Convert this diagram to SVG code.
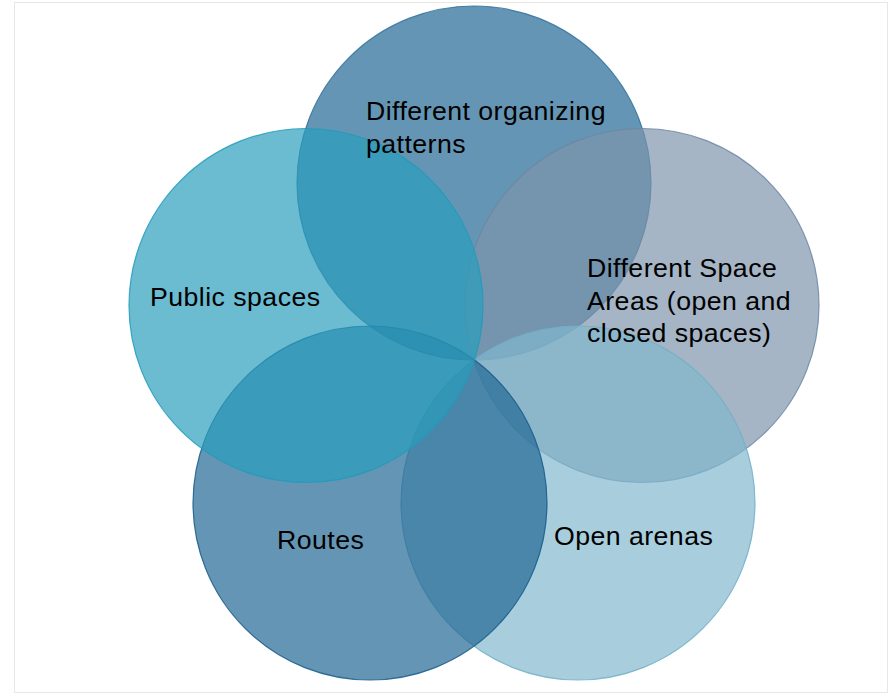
<svg xmlns="http://www.w3.org/2000/svg" width="893" height="694" viewBox="0 0 893 694">
  <style>
    .c { fill-opacity: 0.69; stroke-width: 1.2; stroke-opacity: 0.85; }
    .lbl { font-family: "Liberation Sans", Arial, sans-serif; font-size: 26.7px; letter-spacing: 0.45px; fill: #000000; }
  </style>
  <rect x="14.5" y="2.5" width="873" height="690" fill="#ffffff" stroke="#e8e8e0" stroke-width="1"/>
  <g id="node-organizing">
    <circle class="c" cx="474" cy="183" r="177" fill="#206592" stroke="#2f719c"/>
  </g>
  <g id="node-space-areas">
    <circle class="c" cx="642" cy="305.5" r="177" fill="#7d94ab" stroke="#6c87a2"/>
  </g>
  <g id="node-open-arenas">
    <circle class="c" cx="578" cy="503" r="177" fill="#81b8ce" stroke="#72afc7"/>
  </g>
  <g id="node-routes">
    <circle class="c" cx="370" cy="503" r="177" fill="#206592" stroke="#155b89"/>
  </g>
  <g id="node-public">
    <circle class="c" cx="306" cy="305.5" r="177" fill="#299ebc" stroke="#1f9bbb"/>
  </g>
  <g id="labels">
    <text id="label-organizing" class="lbl" x="366" y="119.5">Different organizing<tspan x="366" y="153">patterns</tspan></text>
    <text id="label-space-areas" class="lbl" x="587" y="277">Different Space<tspan x="587" y="309.5">Areas (open and</tspan><tspan x="587" y="342">closed spaces)</tspan></text>
    <text id="label-public" class="lbl" x="150" y="306">Public spaces</text>
    <text id="label-routes" class="lbl" x="277" y="548.5">Routes</text>
    <text id="label-open-arenas" class="lbl" x="554" y="545">Open arenas</text>
  </g>
</svg>
